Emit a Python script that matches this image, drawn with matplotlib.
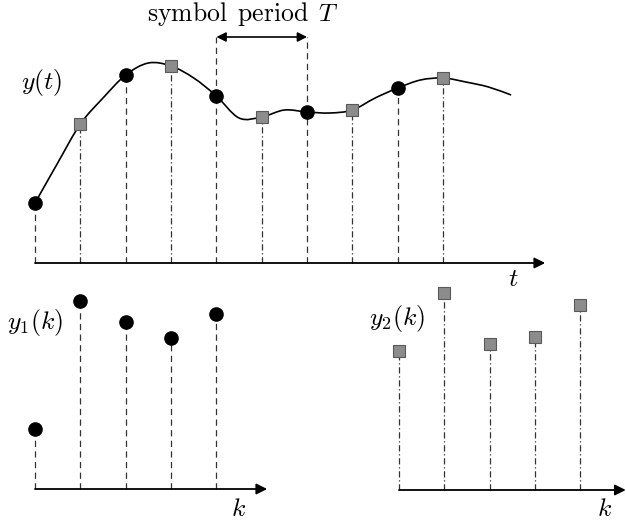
import numpy as np
import matplotlib.pyplot as plt
from matplotlib.path import Path
from matplotlib.patches import PathPatch

plt.rcParams['mathtext.fontset'] = 'cm'
plt.rcParams['font.family'] = 'serif'

curve_t = [0, 0.5, 1, 1.5, 2, 2.5, 3, 3.5, 4, 4.5, 5, 5.5, 6, 6.5, 7, 7.5,
           8, 8.5, 9, 9.5, 10, 10.5]
curve_v = [0.60, 1.00, 1.39, 1.65, 1.88, 2.00, 1.97, 1.85, 1.67, 1.45, 1.46,
           1.53, 1.51, 1.50, 1.53, 1.65, 1.75, 1.83, 1.85, 1.81, 1.76, 1.68]

# samples: even instants -> y1(k), odd instants -> y2(k)
k = [0, 1, 2, 3, 4]
y1 = [0.60, 1.88, 1.67, 1.51, 1.75]
y2 = [1.39, 1.97, 1.46, 1.53, 1.85]
t1 = [2 * i for i in k]
t2 = [2 * i + 1 for i in k]

W, H = 626, 525
fig = plt.figure(figsize=(W / 100, H / 100), dpi=100)

PX_T = 45.35   # pixels per time step
PX_V = 100.0   # pixels per amplitude unit
FS = 18.5


def panel(x0, x1, y0, y1px, ox, oy):
    """axes over pixel box [x0,x1]x[y0,y1px] with origin at pixel (ox, oy)"""
    ax = fig.add_axes([x0 / W, 1 - y1px / H, (x1 - x0) / W, (y1px - y0) / H])
    ax.set_xlim((x0 - ox) / PX_T, (x1 - ox) / PX_T)
    ax.set_ylim((oy - y1px) / PX_V, (oy - y0) / PX_V)
    ax.axis('off')
    return ax


def axis_arrow(ax, x_end):
    ax.annotate('', xy=(x_end, 0), xytext=(0, 0), annotation_clip=False,
                arrowprops=dict(arrowstyle='-|>', color='k', lw=1.3,
                                mutation_scale=16, shrinkA=0, shrinkB=0))


DASH = (0, (5, 3.5))
DASHDOT = (0, (5, 2.2, 1, 2.2))
circ = dict(marker='o', ms=9.5, color='k', ls='none', zorder=5)
sq = dict(marker='s', ms=8.5, mfc='0.55', mec='0.35', mew=0.8, ls='none',
          zorder=5)


def smooth_path(xs, ys):
    # Catmull-Rom through the read points, drawn as cubic Bezier segments
    p = np.column_stack([xs, ys])
    verts = [p[0]]
    codes = [Path.MOVETO]
    for i in range(len(p) - 1):
        p0 = p[max(i - 1, 0)]
        p3 = p[min(i + 2, len(p) - 1)]
        c1 = p[i] + (p[i + 1] - p0) / 6
        c2 = p[i + 1] - (p3 - p[i]) / 6
        verts += [c1, c2, p[i + 1]]
        codes += [Path.CURVE4] * 3
    return Path(verts, codes)


# top: y(t)
ax = panel(0, W, 0, 280, 35, 263)
ax.add_patch(PathPatch(smooth_path(curve_t, curve_v), fill=False, lw=1.2,
                       color='k', zorder=3))
ax.vlines(t1, 0, y1, colors='0.2', lw=0.9, linestyles=DASH, zorder=2)
ax.vlines(t2, 0, y2, colors='0.2', lw=0.9, linestyles=DASHDOT, zorder=2)
ax.plot(t1, y1, **circ)
ax.plot(t2, y2, **sq)
axis_arrow(ax, 11.25)

# symbol period bracket
top = 2.26
ax.vlines([t1[2], t1[3]], [y1[2], y1[3]], top, colors='0.2', lw=0.9,
          linestyles=DASH, zorder=2)
ax.annotate('', xy=(t1[3], top), xytext=(t1[2], top),
            arrowprops=dict(arrowstyle='<|-|>', color='k', lw=1.2,
                            mutation_scale=14, shrinkA=0, shrinkB=0))
ax.text(4.59, 2.49, r'$\mathrm{symbol\ \,period}\ \,T$', fontsize=FS,
        ha='center', va='center')
ax.text(0.15, 1.81, r'$y(t)$', fontsize=FS, ha='center', va='center')
ax.text(10.54, -0.16, r'$t$', fontsize=FS, ha='center', va='center')

# bottom left: y1(k)
bl = panel(0, 300, 280, H, 35, 489)
bl.vlines(k, 0, y1, colors='0.2', lw=0.9, linestyles=DASH)
bl.plot(k, y1, **circ)
axis_arrow(bl, 5.12)
bl.text(0.0, 1.67, r'$y_1(k)$', fontsize=FS, ha='center', va='center')
bl.text(4.48, -0.19, r'$k$', fontsize=FS, ha='center', va='center')

# bottom right: y2(k)
br = panel(300, W, 280, H, 399, 490)
br.vlines(k, 0, y2, colors='0.2', lw=0.9, linestyles=DASHDOT)
br.plot(k, y2, **sq)
axis_arrow(br, 5.0)
br.text(-0.04, 1.72, r'$y_2(k)$', fontsize=FS, ha='center', va='center')
br.text(4.54, -0.18, r'$k$', fontsize=FS, ha='center', va='center')

fig.savefig('out.png', dpi=100)
